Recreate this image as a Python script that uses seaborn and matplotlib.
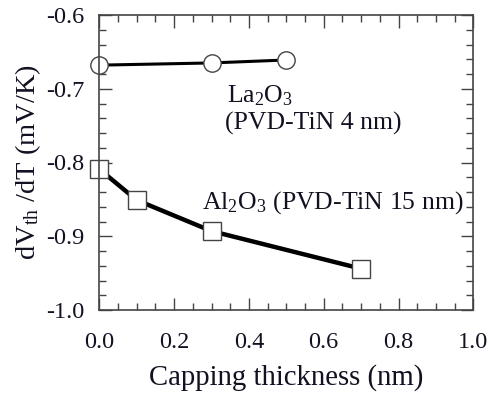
import matplotlib
matplotlib.use("Agg")
import matplotlib.pyplot as plt
import seaborn as sns
import pandas as pd
from matplotlib.ticker import MultipleLocator

la_x = [0.0, 0.3, 0.5]
la_y = [-0.668, -0.665, -0.661]
al_x = [0.0, 0.1, 0.3, 0.7]
al_y = [-0.809, -0.851, -0.893, -0.944]

sns.set_style("ticks")
plt.rcParams['font.family'] = ['Liberation Serif', 'DejaVu Serif']
plt.rcParams['mathtext.fontset'] = 'custom'
plt.rcParams['mathtext.rm'] = 'Liberation Serif'
plt.rcParams['mathtext.it'] = 'Liberation Serif'

fig = plt.figure(figsize=(4.88, 3.94), dpi=100)
ax = fig.add_axes([99.3/488, 1 - 310/394, (473.3-99.3)/488, (310-15)/394])

df_la = pd.DataFrame({"x": la_x, "y": la_y})
df_al = pd.DataFrame({"x": al_x, "y": al_y})

sns.lineplot(data=df_la, x="x", y="y", ax=ax, color="black", lw=2.2,
             marker="o", markersize=12.5, markerfacecolor="white",
             markeredgecolor="#444444", markeredgewidth=1.0, clip_on=False)
sns.lineplot(data=df_al, x="x", y="y", ax=ax, color="black", lw=3.2,
             marker="s", markersize=12.5, markerfacecolor="white",
             markeredgecolor="#444444", markeredgewidth=1.0, clip_on=False)

ax.set_xlim(0, 1.0)
ax.set_ylim(-1.0, -0.6)
ax.xaxis.set_minor_locator(MultipleLocator(0.05))
ax.yaxis.set_minor_locator(MultipleLocator(0.02))
ax.set_xticks([0, 0.2, 0.4, 0.6, 0.8, 1.0])
ax.set_xticklabels(["0.0", "0.2", "0.4", "0.6", "0.8", "1.0"])
ax.set_yticks([-1.0, -0.9, -0.8, -0.7, -0.6])
ax.set_yticklabels(["-1.0", "-0.9", "-0.8", "-0.7", "-0.6"])
ax.tick_params(which="both", direction="in", top=True, right=True,
               labelsize=17.5, colors="#444444", labelcolor="#111122", width=1)
ax.tick_params(which="major", length=9)
ax.tick_params(which="minor", length=5)
ax.tick_params(axis="x", which="major", pad=16)
ax.tick_params(axis="y", which="major", pad=11)
for s in ax.spines.values():
    s.set_color("#444444")
    s.set_linewidth(1.2)

ax.set_xlabel("Capping thickness (nm)", fontsize=20.7, color="#111122", labelpad=8)
ax.set_ylabel(r"dV$_{\rm th}$ /dT (mV/K)", fontsize=20.5, color="#111122", labelpad=2)

ax.text(0.341, -0.719, r"La$_2$O$_3$", fontsize=18.5, color="#111122", va="baseline")
ax.text(0.336, -0.756, "(PVD-TiN 4 nm)", fontsize=18.5, color="#111122", va="baseline")
ax.text(0.275, -0.862, r"Al$_2$O$_3$ (PVD-TiN 15 nm)", fontsize=18.5, color="#111122", va="baseline")

fig.savefig("out.png", dpi=100)
